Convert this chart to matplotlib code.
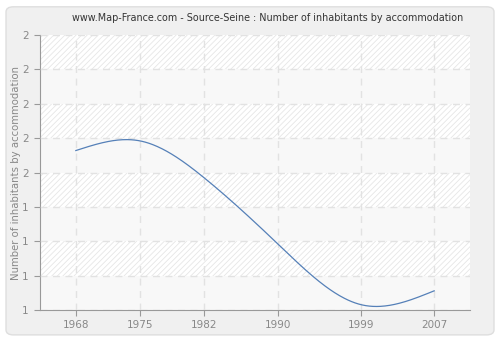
import numpy as np
import matplotlib
matplotlib.use("Agg")
import matplotlib.pyplot as plt
from matplotlib.patches import Rectangle, FancyBboxPatch

years = [1968, 1975, 1982, 1990, 1999, 2007]
inhabitants = [1.58, 1.615, 1.48, 1.24, 1.02, 1.07]
y_ticks = [1.0, 1.125, 1.25, 1.375, 1.5, 1.625, 1.75, 1.875, 2.0]
title = "www.Map-France.com - Source-Seine : Number of inhabitants by accommodation"
ylabel = "Number of inhabitants by accommodation"


def natural_spline(x, y, n=300):
    # natural cubic spline through the points
    x = np.asarray(x, float)
    y = np.asarray(y, float)
    k = len(x)
    h = np.diff(x)
    A = np.zeros((k, k))
    b = np.zeros(k)
    A[0, 0] = A[-1, -1] = 1
    for i in range(1, k - 1):
        A[i, i - 1] = h[i - 1]
        A[i, i] = 2 * (h[i - 1] + h[i])
        A[i, i + 1] = h[i]
        b[i] = 6 * ((y[i + 1] - y[i]) / h[i] - (y[i] - y[i - 1]) / h[i - 1])
    m = np.linalg.solve(A, b)
    xs = np.linspace(x[0], x[-1], n)
    ys = np.empty_like(xs)
    for j, t in enumerate(xs):
        i = min(np.searchsorted(x, t, side="right") - 1, k - 2)
        a, c = x[i], x[i + 1]
        hh = c - a
        ys[j] = (m[i] * (c - t) ** 3 / (6 * hh) + m[i + 1] * (t - a) ** 3 / (6 * hh)
                 + (y[i] / hh - m[i] * hh / 6) * (c - t)
                 + (y[i + 1] / hh - m[i + 1] * hh / 6) * (t - a))
    return xs, ys


plt.rcParams["hatch.linewidth"] = 0.6

fig = plt.figure(figsize=(5, 3.4), dpi=100)
fig.patch.set_facecolor("white")
fig.patches.append(FancyBboxPatch((0.012, 0.015), 0.976, 0.965,
                                  boxstyle="round,pad=0,rounding_size=0.015",
                                  transform=fig.transFigure, facecolor="#f0f0f0",
                                  edgecolor="#dedede", linewidth=1, zorder=-10))

ax = fig.add_axes([0.08, 0.088, 0.86, 0.809])
ax.set_facecolor("white")
ax.add_patch(Rectangle((0, 0), 1, 1, transform=ax.transAxes, facecolor="white",
                       edgecolor="#e6e6e6", linewidth=0, hatch="//////", zorder=0))
# lighter alternating bands
for lo in y_ticks[0:-1:2]:
    ax.axhspan(lo, lo + 0.125, facecolor="#f8f8f8", edgecolor="none", zorder=0.5)

ax.set_xlim(1964.1, 2010.9)
ax.set_ylim(1.0, 2.0)
ax.set_xticks(years)
ax.set_xticklabels([str(y) for y in years])
ax.set_yticks(y_ticks)
ax.set_yticklabels([str(int(round(v + 1e-9))) if v != 1.5 else "2" for v in y_ticks])

ax.grid(True, color="#e2e2e2", linestyle=(0, (5, 4)), linewidth=1, zorder=1)
ax.set_axisbelow(False)

xs, ys = natural_spline(years, inhabitants)
ax.plot(xs, ys, color="#5580b8", linewidth=0.9, zorder=3)

for s in ["top", "right"]:
    ax.spines[s].set_visible(False)
for s in ["left", "bottom"]:
    ax.spines[s].set_color("#999999")
ax.tick_params(colors="#999999", labelcolor="#888888", labelsize=7.5, length=4)
ax.tick_params(axis="y", pad=4)

ax.set_ylabel(ylabel, color="#888888", fontsize=7.3)
ax.yaxis.set_label_coords(-0.045, 0.5)
fig.text(0.536, 0.947, title, ha="center", va="center", fontsize=6.95, color="#333333")

fig.savefig("out.png", dpi=100)
